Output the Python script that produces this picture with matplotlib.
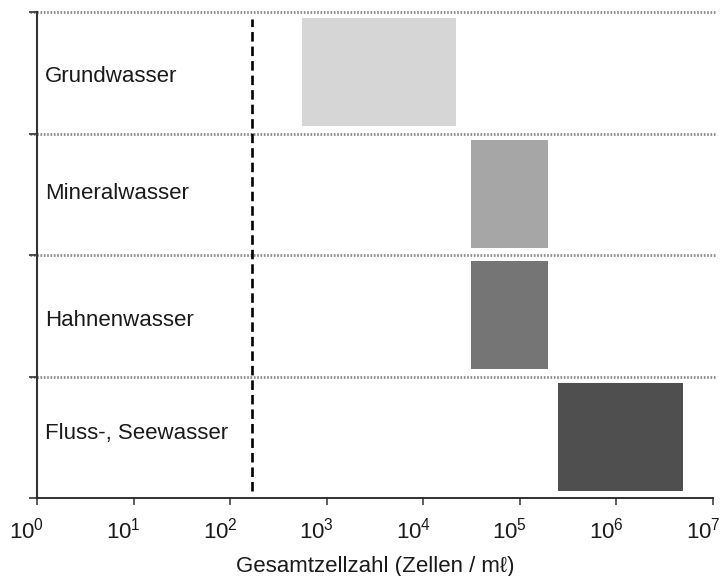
import matplotlib
matplotlib.use("Agg")
import matplotlib.pyplot as plt
import matplotlib.transforms as mtransforms

plt.rcParams['font.family'] = ['Liberation Sans', 'DejaVu Sans']
plt.rcParams['mathtext.fontset'] = 'custom'
plt.rcParams['mathtext.rm'] = 'Liberation Sans'
plt.rcParams['mathtext.it'] = 'Liberation Sans'

# Water types (top to bottom) and their total cell count ranges (cells / mL)
categories = ["Grundwasser", "Mineralwasser", "Hahnenwasser", "Fluss-, Seewasser"]
range_low = [5.6e2, 3.1e4, 3.1e4, 2.5e5]
range_high = [2.2e4, 1.95e5, 1.95e5, 4.9e6]
colors = ["#d6d6d6", "#a6a6a6", "#757575", "#4f4f4f"]
detection_limit = 1.7e2
tick_values = [1e0, 1e1, 1e2, 1e3, 1e4, 1e5, 1e6, 1e7]
tick_labels = [r"$10^{%d}$" % e for e in range(8)]
x_label = "Gesamtzellzahl (Zellen / mℓ)"

# label vertical offset inside each row (fraction of the row)
label_offsets = [0.47, 0.506, 0.465, 0.53]

fig = plt.figure(figsize=(7.2, 5.76), dpi=100)
ax = fig.add_axes([37 / 720, 1 - 498 / 576, 676 / 720, 486 / 576])
ax.set_xscale("log")
ax.set_xlim(1, 1e7)
n = len(categories)
ax.set_ylim(0, n)

for i, (lo, hi, c) in enumerate(zip(range_low, range_high, colors)):
    row = n - 1 - i
    ax.barh(row + 0.505, hi - lo, left=lo, height=0.89, color=c, edgecolor="none", zorder=2)
    ax.text(0.012, row + label_offsets[i], categories[i],
            transform=mtransforms.blended_transform_factory(ax.transAxes, ax.transData),
            ha="left", va="center", fontsize=16, color="#1a1a1a", zorder=3)

# row separators
for y in range(1, n + 1):
    ax.axhline(y, xmin=-0.01, xmax=1.004, color="#8a8a8a", lw=2.0,
               linestyle=(0, (0.6, 0.6)), clip_on=False, zorder=1)

# detection limit
ax.vlines(detection_limit, 0.06, n - 0.06, colors="black", lw=1.9,
          linestyles=[(0, (3.6, 1.9))], zorder=3)

for s in ["top", "right"]:
    ax.spines[s].set_visible(False)
ax.spines["left"].set_color("#333333")
ax.spines["left"].set_linewidth(1.5)
ax.spines["left"].set_bounds(0, n)
ax.spines["bottom"].set_color("#222222")
ax.spines["bottom"].set_linewidth(1.3)

ax.set_xticks(tick_values)
ax.set_xticklabels(tick_labels, fontsize=16)
ax.xaxis.set_minor_locator(matplotlib.ticker.NullLocator())
ax.tick_params(axis="x", direction="out", length=5, width=1.2, color="#444444",
               pad=9, labelcolor="#1a1a1a")
# labels sit slightly left of their ticks
shift = mtransforms.ScaledTranslation(-10 / 100, 0, fig.dpi_scale_trans)
for lbl in ax.get_xticklabels():
    lbl.set_transform(lbl.get_transform() + shift)
ax.set_yticks(range(0, n + 1))
ax.set_yticklabels([])
ax.tick_params(axis="y", direction="out", length=6, width=1.3, color="#444444")
ax.set_xlabel(x_label, fontsize=16, color="#1a1a1a", labelpad=9)

fig.savefig("out.png", dpi=100, facecolor="white")
